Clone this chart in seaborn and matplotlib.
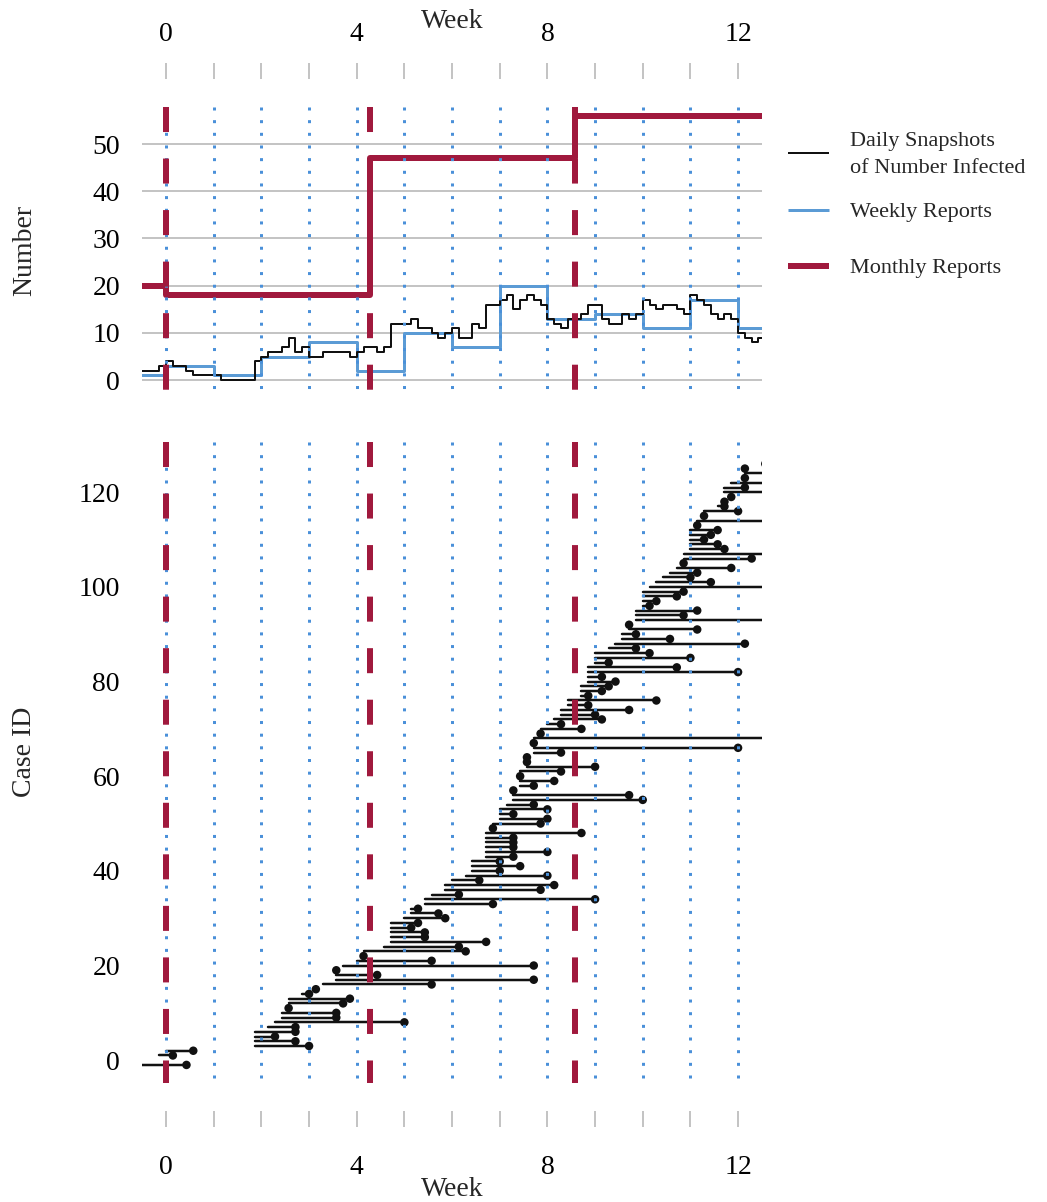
import numpy as np
import pandas as pd
import matplotlib
matplotlib.use("Agg")
import matplotlib.pyplot as plt
from matplotlib.lines import Line2D
import seaborn as sns

sns.set_theme(style="white")
plt.rcParams["font.family"] = ["Liberation Serif", "DejaVu Serif"]

# ---------------- data ----------------
# daily snapshots of the number infected (value holds from that day to the next)
daily_day = list(range(-5, 88))
daily_num = [2, 2, 2, 2, 3, 4, 3, 3, 2, 1,
             1, 1, 1, 0, 0, 0, 0, 0, 4, 5,
             6, 6, 7, 9, 6, 7, 5, 5, 6, 6,
             6, 6, 5, 6, 7, 7, 6, 7, 12, 12,
             12, 13, 11, 11, 10, 9, 10, 11, 9, 9,
             12, 11, 16, 16, 17, 18, 15, 17, 18, 17,
             16, 13, 12, 11, 13, 13, 14, 16, 16, 13,
             12, 12, 14, 13, 14, 17, 16, 15, 16, 16,
             15, 14, 18, 17, 16, 14, 13, 14, 13, 10,
             9, 8, 9]

# weekly reports (value holds for the week starting at that week)
weekly_week = list(range(-1, 13))
weekly_num = [1, 3, 1, 5, 8, 2, 10, 7, 20, 13, 14, 11, 17, 11]

# monthly reports (value holds for the 30 days starting at that day)
monthly_day = [-30, 0, 30, 60]
monthly_num = [20, 18, 47, 56]

# individual cases: infectious period in days (start, end)
case_id = [-1, 1, 2, 3, 4, 5, 6, 7, 8, 9, 10,
           11, 12, 13, 14, 15, 16, 17, 18, 19, 20,
           21, 22, 23, 24, 25, 26, 27, 28, 29, 30,
           31, 32, 33, 34, 35, 36, 37, 38, 39, 40,
           41, 42, 43, 44, 45, 46, 47, 48, 49, 50,
           51, 52, 53, 54, 55, 56, 57, 58, 59, 60,
           61, 62, 63, 64, 65, 66, 67, 68, 69, 70,
           71, 72, 73, 74, 75, 76, 77, 78, 79, 80,
           81, 82, 83, 84, 85, 86, 87, 88, 89, 90,
           91, 92, 93, 94, 95, 96, 97, 98, 99, 100,
           101, 102, 103, 104, 105, 106, 107, 108, 109, 110,
           111, 112, 113, 114, 115, 116, 117, 118, 119, 120,
           121, 122, 123, 124, 125, 126]
case_start = [-5, -1, 0, 13, 13, 13, 13, 15, 16, 17, 17,
              18, 18, 18, 20, 22, 23, 25, 25, 25, 26,
              28, 29, 29, 32, 33, 33, 33, 33, 33, 35,
              36, 36, 38, 38, 39, 41, 41, 42, 44, 45,
              45, 45, 47, 47, 47, 47, 47, 47, 48, 48,
              49, 49, 49, 50, 51, 51, 51, 52, 52, 52,
              52, 53, 53, 53, 54, 54, 54, 54, 55, 55,
              56, 57, 58, 58, 59, 59, 61, 61, 61, 62,
              62, 62, 62, 63, 63, 63, 65, 66, 67, 67,
              68, 68, 69, 69, 69, 70, 70, 70, 70, 71,
              72, 73, 74, 75, 76, 76, 76, 77, 77, 77,
              77, 77, 78, 78, 79, 79, 81, 82, 83, 82,
              82, 83, 85, 85, 85, 88]
case_end = [3, 1, 4, 21, 19, 16, 19, 19, 35, 25, 25,
            18, 26, 27, 21, 22, 39, 54, 31, 25, 54,
            39, 29, 44, 43, 47, 38, 38, 36, 37, 41,
            40, 37, 48, 63, 43, 55, 57, 46, 56, 49,
            52, 49, 51, 56, 51, 51, 51, 61, 48, 55,
            56, 51, 56, 54, 70, 68, 51, 54, 57, 52,
            58, 63, 53, 53, 58, 84, 54, 95, 55, 61,
            58, 64, 63, 68, 62, 72, 62, 64, 65, 66,
            64, 84, 75, 65, 77, 71, 69, 85, 74, 69,
            78, 68, 95, 76, 78, 71, 72, 75, 76, 95,
            80, 77, 78, 83, 76, 86, 95, 82, 81, 79,
            80, 81, 78, 95, 79, 84, 82, 82, 83, 95,
            85, 95, 85, 95, 85, 88]

# ---------------- styling ----------------
W, H, DPI = 1047, 1202, 100
RED = "#A0193D"
BLUE_LINE = "#5B9BD5"
BLUE_DOT = "#4A90D9"
GRID = "#C4C4C4"
INK = "#111111"
PX = 72.0 / DPI  # points per pixel
FS = 20

fig = plt.figure(figsize=(W / DPI, H / DPI), dpi=DPI)

X0, X1 = 142.2, 761.9
XLIM = (-0.5, 12.5)


def add_axes_px(left, top, right, bottom):
    return fig.add_axes([left / W, 1 - bottom / H, (right - left) / W, (bottom - top) / H])


# top panel: value 0 at y=380.2 px, 4.724 px per unit
TOP_T, TOP_B = 107.0, 398.0
ax1 = add_axes_px(X0, TOP_T, X1, TOP_B)
ax1.set_xlim(*XLIM)
ax1.set_ylim((380.2 - TOP_B) / 4.724, (380.2 - TOP_T) / 4.724)

# bottom panel: case 0 at y=1060.2 px, 4.733 px per case
BOT_T, BOT_B = 441.7, 1083.0
ax2 = add_axes_px(X0, BOT_T, X1, BOT_B)
ax2.set_xlim(*XLIM)
ax2.set_ylim((1060.2 - BOT_B) / 4.733, (1060.2 - BOT_T) / 4.733)

for ax in (ax1, ax2):
    ax.set_facecolor("none")
    for s in ax.spines.values():
        s.set_color("none")
    ax.grid(False)

# ---------- top panel series ----------
for v in range(0, 60, 10):
    ax1.plot(XLIM, [v, v], color=GRID, lw=2 * PX, zorder=1, solid_capstyle="butt")

d_x = np.array(daily_day + [daily_day[-1] + 1]) / 7.0
d_y = daily_num + [daily_num[-1]]
sns.lineplot(x=d_x, y=d_y, ax=ax1, color=INK, lw=2.0 * PX, drawstyle="steps-post",
             sort=False, estimator=None, zorder=3)

w_x = np.array(weekly_week + [weekly_week[-1] + 1], dtype=float)
w_y = weekly_num + [weekly_num[-1]]
sns.lineplot(x=w_x, y=w_y, ax=ax1, color=BLUE_LINE, lw=3.0 * PX, drawstyle="steps-post",
             sort=False, estimator=None, zorder=2)

m_x = np.array(monthly_day + [monthly_day[-1] + 30]) / 7.0
m_y = monthly_num + [monthly_num[-1]]
sns.lineplot(x=m_x, y=m_y, ax=ax1, color=RED, lw=6.0 * PX, drawstyle="steps-post",
             sort=False, estimator=None, zorder=4)

# ---------- bottom panel cases ----------
cases = pd.DataFrame({"case": case_id, "start": case_start, "end": case_end})
seg = pd.concat([
    cases.assign(week=cases["start"] / 7.0),
    cases.assign(week=cases["end"] / 7.0),
]).sort_values(["case", "week"])
sns.lineplot(data=seg, x="week", y="case", units="case", estimator=None, sort=False,
             color=INK, lw=2.5 * PX, ax=ax2, zorder=2)
sns.scatterplot(x=cases["end"] / 7.0, y=cases["case"], ax=ax2, color=INK,
                s=(8.5 * PX) ** 2, edgecolor="none", linewidth=0, zorder=3)

# ---------- reporting reference lines ----------
for ax in (ax1, ax2):
    tr = ax.get_xaxis_transform()
    for wk in range(0, 13):
        ax.plot([wk, wk], [1, 0], transform=tr, color=BLUE_DOT, lw=3 * PX,
                linestyle=(0, (1.0, 3.22)), dash_capstyle="butt", zorder=5)
    for dd in (0, 30, 60):
        ax.plot([dd / 7.0, dd / 7.0], [1, 0], transform=tr, color=RED, lw=6 * PX,
                linestyle=(0, (4.17, 4.42)), dash_capstyle="butt", zorder=6)
    ax.set_xlabel("")
    ax.set_ylabel("")

# ---------- axes ticks ----------
week_ticks = list(range(0, 13))
week_labels = [str(w) if w % 4 == 0 else "" for w in week_ticks]

ax1.xaxis.tick_top()
ax1.spines["top"].set_position(("outward", 20))
ax1.set_xticks(week_ticks)
ax1.set_xticklabels(week_labels)
ax1.tick_params(axis="x", which="major", top=True, bottom=False, length=16 * PX,
                width=2 * PX, color=GRID, labelsize=FS, pad=12, labelcolor="black")

ax2.spines["bottom"].set_position(("outward", 20))
ax2.set_xticks(week_ticks)
ax2.set_xticklabels(week_labels)
ax2.tick_params(axis="x", which="major", bottom=True, top=False, length=16 * PX,
                width=2 * PX, color=GRID, labelsize=FS, pad=20, labelcolor="black")

ax1.set_yticks(range(0, 60, 10))
ax2.set_yticks(range(0, 140, 20))
for ax in (ax1, ax2):
    ax.tick_params(axis="y", left=False, length=0, labelsize=FS, pad=16, labelcolor="black")
    ax.set_xlim(*XLIM)


def ftext(x, y, s, **kw):
    fig.text(x / W, 1 - y / H, s, **kw)


ftext(452, 21, "Week", ha="center", va="center", fontsize=FS)
ftext(452, 1190, "Week", ha="center", va="center", fontsize=FS)
ftext(25, 250, "Number", ha="center", va="center", rotation=90, fontsize=FS)
ftext(25, 752, "Case ID", ha="center", va="center", rotation=90, fontsize=FS)

# ---------- legend ----------
legend_items = [
    (153, 155, INK, 2.0, "Daily Snapshots\nof Number Infected"),
    (210, 212, BLUE_LINE, 3.0, "Weekly Reports"),
    (266, 269, RED, 6.0, "Monthly Reports"),
]
for y, ty, col, lw, label in legend_items:
    fig.add_artist(Line2D([788 / W, 829 / W], [1 - y / H, 1 - y / H], color=col,
                          lw=lw * PX, solid_capstyle="butt", transform=fig.transFigure))
    ftext(850, ty, label, ha="left", va="center", fontsize=16, linespacing=1.55)

fig.savefig("out.png", dpi=DPI)
